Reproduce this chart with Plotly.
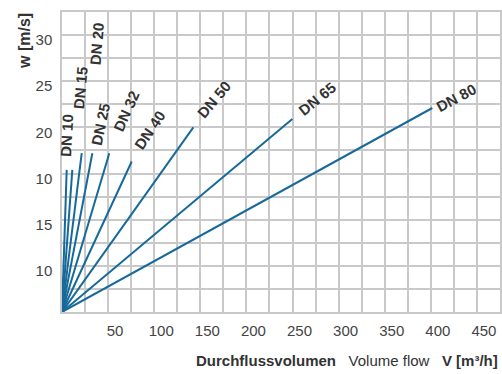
import plotly.graph_objects as go

# ---- data ----
dn_names = ["DN 10", "DN 15", "DN 20", "DN 25", "DN 32", "DN 40", "DN 50", "DN 65", "DN 80"]
end_flow = [5.1, 11.2, 21.4, 32.9, 51.3, 75.6, 142.4, 249.8, 401.6]       # m3/h at line end
end_speed = [15.4, 15.4, 17.2, 17.2, 17.2, 16.3, 20.0, 20.9, 22.1]        # m/s at line end

x_tick_values = [50, 100, 150, 200, 250, 300, 350, 400, 450]
x_tick_labels = ["50", "100", "150", "200", "250", "300", "350", "400", "450"]
y_tick_values = [5, 10, 15, 20, 25, 30]
y_tick_labels = ["10", "15", "10", "20", "25", "30"]   # as printed on the original

# label placement (data coords) and angles
label_x = [5.4, 20.1, 37.6, 42.1, 70.2, 95.4, 164.9, 277.1, 428.1]
label_y = [19.2, 24.3, 29.1, 20.4, 21.8, 19.8, 23.0, 23.1, 23.2]
label_angle = [-87, -85, -85, -78, -66, -56, -50, -39, -28]

FONT = "Liberation Sans, Arial, sans-serif"
LINE = "#17699a"
GRID = "#c9c9c9"

fig = go.Figure()
for name, fx, fy in zip(dn_names, end_flow, end_speed):
    fig.add_trace(go.Scatter(x=[0, fx], y=[0, fy], mode="lines", name=name,
                             line=dict(color=LINE, width=2), showlegend=False,
                             hoverinfo="skip"))

for name, lx, ly, ang in zip(dn_names, label_x, label_y, label_angle):
    fig.add_annotation(x=lx, y=ly, xref="x", yref="y", text="<b>" + name + "</b>",
                       textangle=ang, showarrow=False, xanchor="center", yanchor="middle",
                       font=dict(family=FONT, size=15, color="#333333",
                                 shadow="0px 0px 2px white"))

fig.add_annotation(xref="paper", yref="paper", x=-0.087, y=0.903, text="<b>w [m/s]</b>",
                   textangle=-90, showarrow=False, xanchor="center", yanchor="middle",
                   font=dict(family=FONT, size=16, color="#333333"))
fig.add_annotation(xref="paper", yref="paper", x=1.0, y=-0.163,
                   text="<b>Durchflussvolumen</b>&nbsp;&nbsp;&nbsp;Volume flow&nbsp;&nbsp;&nbsp;<b>V [m³/h]</b>",
                   showarrow=False, xanchor="right", yanchor="middle",
                   font=dict(family=FONT, size=15, color="#333333"))

fig.update_xaxes(range=[0, 475], tickvals=x_tick_values, ticktext=x_tick_labels,
                 showgrid=True, gridcolor=GRID, gridwidth=1.5,
                 minor=dict(dtick=25, tick0=0, showgrid=True, gridcolor=GRID, gridwidth=1.5),
                 showline=True, linecolor=GRID, linewidth=1.5, mirror=True,
                 zeroline=False, ticks="", ticklabelstandoff=4, ticklabelshift=7,
                 automargin=False,
                 tickfont=dict(family=FONT, size=15, color="#444444"), fixedrange=True)
fig.update_yaxes(range=[0, 32.5], tickvals=y_tick_values, ticktext=y_tick_labels,
                 showgrid=True, gridcolor=GRID, gridwidth=1.5,
                 minor=dict(dtick=2.5, tick0=0, showgrid=True, gridcolor=GRID, gridwidth=1.5),
                 showline=True, linecolor=GRID, linewidth=1.5, mirror=True,
                 zeroline=False, ticks="", ticklabelstandoff=5, ticklabelshift=5,
                 automargin=False,
                 tickfont=dict(family=FONT, size=15, color="#444444"), fixedrange=True)

fig.update_layout(width=502, height=374, margin=dict(l=62, r=2, t=12, b=62, autoexpand=False),
                  plot_bgcolor="white", paper_bgcolor="white", showlegend=False)

fig.write_html("out.html", config={"displayModeBar": False},
               post_script="document.body.style.margin='0';document.body.style.overflow='hidden';")
